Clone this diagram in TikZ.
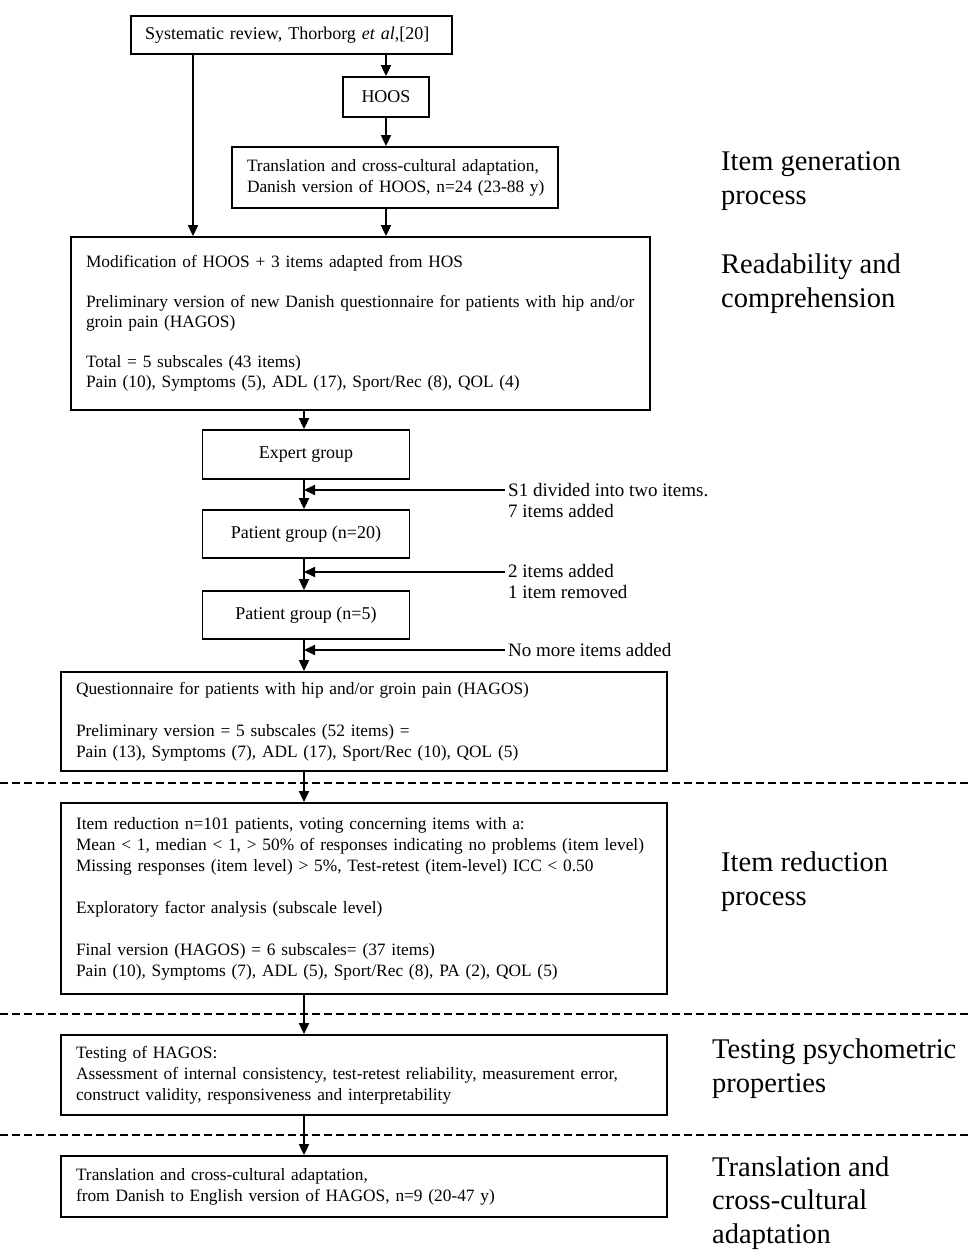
\documentclass[tikz,border=0pt]{standalone}
\usepackage{fontspec}
\setmainfont{Liberation Serif}
\usetikzlibrary{arrows.meta,calc}
\begin{document}
\begin{tikzpicture}[x=1pt,y=-1pt,
  every node/.style={font=\fontsize{18}{21}\selectfont},
  box/.style={draw, line width=1.8pt, inner sep=0pt},
  tbox/.style={box, inner xsep=15pt, inner ysep=0pt, align=left, font=\fontsize{17.35}{21}\selectfont},
  arr/.style={line width=1.8pt, -{Triangle[length=11pt,width=10pt]}},
  sep/.style={line width=1.6pt, dash pattern=on 8pt off 4pt},
  phase/.style={font=\fontsize{28.5}{33.5}\selectfont, align=left, anchor=base west, inner sep=0pt},
  side/.style={font=\fontsize{19}{21}\selectfont, align=left, anchor=base west, inner sep=0pt}]
\useasboundingbox (0,0) rectangle (970,1250);

% separators
\coordinate (d1l) at (0,783);  \coordinate (d1r) at (970,783);
\coordinate (d2l) at (0,1014); \coordinate (d2r) at (970,1014);
\coordinate (d3l) at (0,1135); \coordinate (d3r) at (970,1135);
\draw[sep] (d1l) -- (d1r);
\draw[sep] (d2l) -- (d2r);
\draw[sep] (d3l) -- (d3r);

% boxes
\node[box, inner xsep=14pt, text width=293pt, align=left, minimum height=38pt] (sys) at (291.5,35)
  {Systematic review, Thorborg \textit{et al},[20]};
\node[box, minimum width=86pt, minimum height=40pt] (hoos) at (386,97) {HOOS};
\node[tbox, text width=296pt, minimum height=61pt] (trans) at (395,177.5)
  {\mbox{Translation and cross-cultural adaptation,}\\\mbox{Danish version of HOOS, n=24 (23-88 y)}};
\node[tbox, font=\fontsize{17.35}{20}\selectfont, text width=549pt, minimum height=173pt] (mod) at (360.5,323.5)
  {Modification of HOOS + 3 items adapted from HOS\\[20pt]
   \mbox{Preliminary version of new Danish questionnaire for patients with hip and/or}\\
   groin pain (HAGOS)\\[20pt]
   Total = 5 subscales (43 items)\\
   Pain (10), Symptoms (5), ADL (17), Sport/Rec (8), QOL (4)};
\node[box, minimum width=207pt, minimum height=49pt] (expert) at (306,454.5) {Expert group};
\node[box, minimum width=207pt, minimum height=48pt] (p20) at (306,534) {Patient group (n=20)};
\node[box, minimum width=207pt, minimum height=48pt] (p5) at (306,615) {Patient group (n=5)};
\node[tbox, text width=576pt, minimum height=99pt] (quest) at (364,721.5)
  {Questionnaire for patients with hip and/or groin pain (HAGOS)\\[21pt]
   Preliminary version = 5 subscales (52 items) =\\
   Pain (13), Symptoms (7), ADL (17), Sport/Rec (10), QOL (5)};
\node[tbox, text width=576pt, minimum height=191pt] (itemred) at (364,898.5)
  {Item reduction n=101 patients, voting concerning items with a:\\
   \mbox{Mean {<} 1, median {<} 1, {>} 50\% of responses indicating no problems (item level)}\\
   Missing responses (item level) {>} 5\%, Test-retest (item-level) ICC {<} 0.50\\[21pt]
   Exploratory factor analysis (subscale level)\\[21pt]
   Final version (HAGOS) = 6 subscales= (37 items)\\
   Pain (10), Symptoms (7), ADL (5), Sport/Rec (8), PA (2), QOL (5)};
\node[tbox, text width=576pt, minimum height=80pt] (test) at (364,1075)
  {Testing of HAGOS:\\
   \mbox{Assessment of internal consistency, test-retest reliability, measurement error,}\\
   construct validity, responsiveness and interpretability};
\node[tbox, text width=576pt, minimum height=61pt] (final) at (364,1186.5)
  {Translation and cross-cultural adaptation,\\
   from Danish to English version of HAGOS, n=9 (20-47 y)};

% phase labels (anchor = baseline of last line)
\node[phase] (ph1) at (721,204) {Item generation\\process};
\node[phase] (ph2) at (721,307) {Readability and\\comprehension};
\node[phase] (ph3) at (721,905) {Item reduction\\process};
\node[phase] (ph4) at (712,1092) {Testing psychometric\\properties};
\node[phase] (ph5) at (712,1243) {Translation and\\cross-cultural\\adaptation};

% side notes (anchor = baseline of last line)
\node[side] (n1) at (508,517) {S1 divided into two items.\\7 items added};
\node[side] (n2) at (508,598) {2 items added\\1 item removed};
\node[side] (n3) at (508,656) {No more items added};

% connectors
\coordinate (spine) at (304,0);
\coordinate (leftx) at (193,0);
\draw[arr] (sys.south -| leftx) -- (mod.north -| leftx);
\draw[arr] (sys.south -| hoos.south) -- (hoos.north);
\draw[arr] (hoos.south) -- (hoos.south |- trans.north);
\draw[arr] (trans.south -| hoos.south) -- (mod.north -| hoos.south);
\draw[arr] (mod.south -| spine) -- (expert.north -| spine);
\draw[arr] (expert.south -| spine) -- (p20.north -| spine);
\draw[arr] (p20.south -| spine) -- (p5.north -| spine);
\draw[arr] (p5.south -| spine) -- (quest.north -| spine);
\draw[arr] (quest.south -| spine) -- (itemred.north -| spine);
\draw[arr] (itemred.south -| spine) -- (test.north -| spine);
\draw[arr] (test.south -| spine) -- (final.north -| spine);

\coordinate (s1) at (505,490);
\coordinate (s2) at (505,572);
\coordinate (s3) at (505,650);
\draw[arr] (s1) -- (s1 -| spine);
\draw[arr] (s2) -- (s2 -| spine);
\draw[arr] (s3) -- (s3 -| spine);
\end{tikzpicture}
\end{document}
